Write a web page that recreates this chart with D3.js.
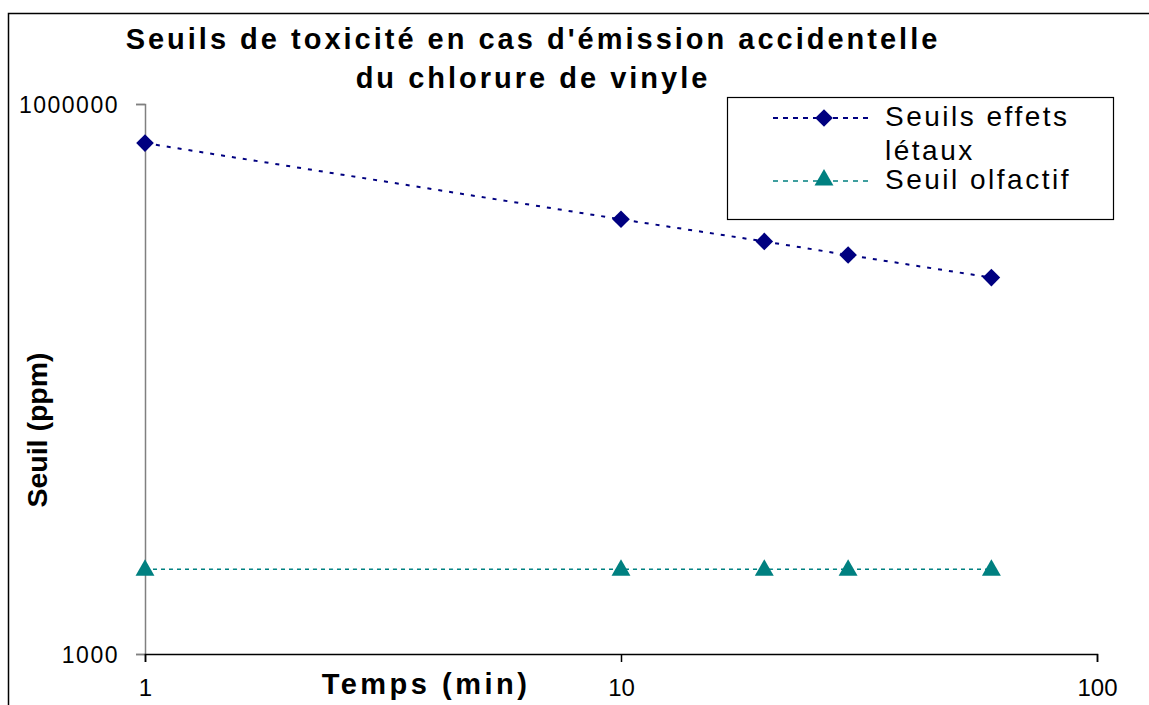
<!DOCTYPE html>
<html><head><meta charset="utf-8">
<script src="https://cdn.jsdelivr.net/npm/d3@7"></script>
<style>body{margin:0;background:#fff}svg{display:block;font-family:"Liberation Sans",Arial,sans-serif}</style>
</head><body><svg id="c" width="1149" height="705"></svg>
<script>
const times = [1, 10, 20, 30, 60];
const letaux = [612000, 235000, 178000, 150000, 113000];
const olfactif = [2900, 2900, 2900, 2900, 2900];
const xTicks = [1, 10, 100];
const yTicks = [1000, 1000000];
const seriesNames = ["Seuils effets létaux", "Seuil olfactif"];

const svg = d3.select("#c");
const FF = "Liberation Sans, Arial, sans-serif";
// outer frame
svg.append("rect").attr("x",8.5).attr("y",13.5).attr("width",1160).attr("height",720)
  .attr("fill","none").attr("stroke","#000").attr("stroke-width",1.5);

const x = d3.scaleLog().domain([1,100]).range([145,1097]);
const y = d3.scaleLog().domain([1000,1000000]).range([654,104]);

// y axis
const ya = svg.append("g").attr("transform","translate(145,0)")
  .call(d3.axisLeft(y).tickValues(yTicks).tickFormat(d3.format("d")).tickSize(9).tickPadding(17));
ya.select(".domain").attr("stroke","#808080").attr("stroke-width",1.5);
ya.selectAll(".tick line").attr("stroke","#808080").attr("stroke-width",1.5);
ya.selectAll("text").attr("font-size",23).attr("letter-spacing",1.5).attr("fill","#000")
  .attr("font-family",FF).attr("dy","0.36em");

// x axis
const xa = svg.append("g").attr("transform","translate(0,654)")
  .call(d3.axisBottom(x).tickValues(xTicks).tickFormat(d3.format("d")).tickSize(8));
xa.select(".domain").attr("stroke","#000").attr("stroke-width",1.5);
xa.selectAll(".tick line").attr("stroke","#000").attr("stroke-width",1.5);
xa.selectAll("text").attr("font-size",24).attr("fill","#000").attr("font-family",FF)
  .attr("dy",null).attr("y",42);

const line = d3.line().x(d=>x(d[0])).y(d=>y(d[1]));
const s1 = times.map((t,i)=>[t,letaux[i]]);
const s2 = times.map((t,i)=>[t,olfactif[i]]);

svg.append("path").datum(s1).attr("d",line).attr("fill","none").attr("stroke","#000080")
  .attr("stroke-width",2).attr("stroke-dasharray","4,7");
svg.append("path").datum(s2).attr("d",line).attr("fill","none").attr("stroke","#008080")
  .attr("stroke-width",1.5).attr("stroke-dasharray","4,4");

const diamond = d3.symbol().type(d3.symbolSquare).size(155);
svg.selectAll(".dia").data(s1).join("path").attr("class","dia")
  .attr("d",diamond).attr("transform",d=>`translate(${x(d[0])},${y(d[1])}) rotate(45)`)
  .attr("fill","#000080");
const tri = d3.symbol().type(d3.symbolTriangle).size(155);
svg.selectAll(".tri").data(s2).join("path").attr("class","tri")
  .attr("d",tri).attr("transform",d=>`translate(${x(d[0])},${y(d[1])+1})`)
  .attr("fill","#008080");

// title
const title = svg.append("text").attr("text-anchor","middle").attr("font-weight","bold")
  .attr("font-size",29).attr("letter-spacing",3);
title.append("tspan").attr("x",533).attr("y",49).text("Seuils de toxicité en cas d'émission accidentelle");
title.append("tspan").attr("x",533).attr("y",88).text("du chlorure de vinyle");

// axis titles
svg.append("text").attr("x",426).attr("y",694).attr("text-anchor","middle").attr("font-weight","bold")
  .attr("font-size",29).attr("letter-spacing",3.5).text("Temps (min)");
svg.append("text").attr("transform","translate(47,430) rotate(-90)").attr("text-anchor","middle")
  .attr("font-weight","bold").attr("font-size",28.5).text("Seuil (ppm)");

// legend
const lg = svg.append("g");
lg.append("rect").attr("x",727.5).attr("y",97.5).attr("width",386).attr("height",122)
  .attr("fill","#fff").attr("stroke","#000").attr("stroke-width",1.2);
lg.append("line").attr("x1",773).attr("x2",872).attr("y1",118).attr("y2",118)
  .attr("stroke","#000080").attr("stroke-width",2).attr("stroke-dasharray","5,5");
lg.append("path").attr("d",diamond).attr("transform","translate(824,118) rotate(45)").attr("fill","#000080");
lg.append("line").attr("x1",773).attr("x2",872).attr("y1",181).attr("y2",181)
  .attr("stroke","#008080").attr("stroke-width",1.5).attr("stroke-dasharray","5,5");
lg.append("path").attr("d",tri).attr("transform","translate(824,180)").attr("fill","#008080");
const lt = lg.append("text").attr("font-size",28).attr("letter-spacing",2.5).attr("fill","#000");
lt.append("tspan").attr("x",885).attr("y",126).text("Seuils effets");
lt.append("tspan").attr("x",885).attr("y",160).text("létaux");
lg.append("text").attr("font-size",28).attr("letter-spacing",2.5).attr("x",885).attr("y",189).text(seriesNames[1]);
</script></body></html>
